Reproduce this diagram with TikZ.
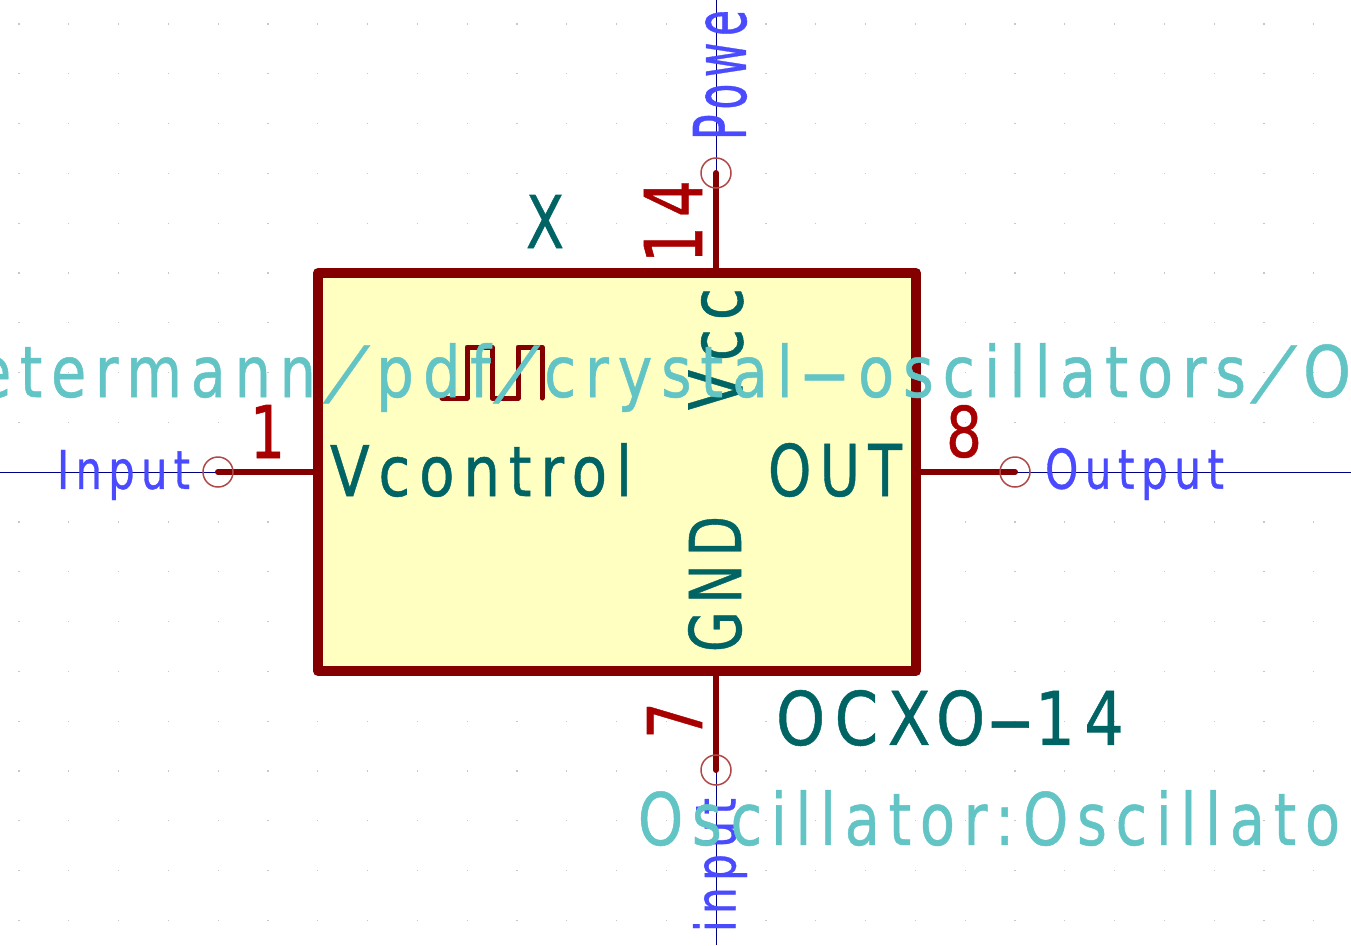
\documentclass[tikz,border=0pt]{standalone}
\usepackage{fontspec}
\usepackage{graphicx}
\setmainfont{DejaVu Sans}
\newfontfamily\strokefont[LetterSpace=15,FakeBold=0.7]{DejaVu Sans}
\newfontfamily\slashfont[FakeSlant=0.4,FakeBold=0.4]{DejaVu Sans}
\definecolor{bodyfill}{RGB}{255,255,194}
\definecolor{pinred}{RGB}{132,0,0}
\definecolor{numred}{RGB}{168,0,0}
\definecolor{refteal}{RGB}{0,100,100}
\definecolor{fieldteal}{RGB}{98,196,196}
\definecolor{netblue}{RGB}{74,74,255}
\definecolor{wireblue}{RGB}{0,0,132}
\definecolor{anchorred}{RGB}{176,72,72}
\definecolor{griddot}{RGB}{200,200,200}
% fit text to an exact ink box: width, height
\newcommand{\fit}[3]{\resizebox*{#1pt}{#2pt}{\strokefont #3}}
% one run of a long text, set to a given width at its natural height
\newcommand{\seg}[2]{\resizebox{#1pt}{\height}{#2}}
\newcommand{\slashseg}{\makebox[50pt][l]{\kern3.5pt\slashfont /}}
\tikzset{
  lbl/.style={inner sep=0pt,outer sep=0pt,anchor=center},
  pinline/.style={line width=6pt,draw=pinred,line cap=round},
  wire/.style={line width=1pt,draw=wireblue},
  anchorring/.style={circle,draw=anchorred,line width=1.5pt,minimum size=30pt,inner sep=0pt,fill=none},
  bodybox/.style={draw=pinred,fill=bodyfill,line width=10pt,line join=round,rectangle,inner sep=0pt,minimum width=598pt,minimum height=398pt},
  refstyle/.style={lbl,text=refteal},
  fieldstyle/.style={lbl,text=fieldteal},
  numstyle/.style={lbl,text=numred},
  netstyle/.style={lbl,text=netblue},
}
\begin{document}
\begin{tikzpicture}[x=1pt,y=-1pt]
\useasboundingbox (0,0) rectangle (1351,945);
\begin{scope}
\clip (0,0) rectangle (1351,945);
\fill[white] (0,0) rectangle (1351,945);
\foreach \i in {0,...,26}{\foreach \j in {0,...,18}{
  \fill[griddot] ({19+49.8*\i-0.6},{24+49.8*\j-0.6}) rectangle ++(1.2,1.2);}}
\node[bodybox] (body) at (617,472) {};
\coordinate (pL) at (218,472);
\coordinate (pR) at (1015,472);
\coordinate (pT) at (716,173);
\coordinate (pB) at (716,770);
\coordinate (eL) at (0,472);
\coordinate (eR) at (1351,472);
\coordinate (eT) at (716,0);
\coordinate (eB) at (716,945);
\draw[wire] (eL) -- (pL);
\draw[wire] (pR) -- (eR);
\draw[wire] (eT) -- (pT);
\draw[wire] (pB) -- (eB);
\draw[pinline] (pL) -- (pL -| body.west);
\draw[pinline] (pR) -- (pR -| body.east);
\draw[pinline] (pT) -- (pT |- body.north);
\draw[pinline] (pB) -- (pB |- body.south);
\node[anchorring] (aL) at (pL) {};
\node[anchorring] (aR) at (pR) {};
\node[anchorring] (aT) at (pT) {};
\node[anchorring] (aB) at (pB) {};
\draw[line width=5pt,draw=pinred,line cap=round,line join=round]
  (442,398) -- (467,398) -- (467,347) -- (492,347) -- (492,398) -- (518,398) -- (518,347) -- (542,347) -- (542,398);
\node[refstyle] (ref) at (545,221.5) {\fit{38}{53}{X}};
\node[numstyle] (n14) at (673,221.5) {\rotatebox{90}{\fit{83}{58}{14}}};
\node[numstyle] (n1) at (267.5,431.5) {\fit{35}{53}{1}};
\node[numstyle] (n8) at (964,431.5) {\fit{36}{53}{8}};
\node[numstyle] (n7) at (674.5,720.5) {\rotatebox{90}{\fit{37}{55}{7}}};
\node[refstyle] (vc) at (481,470) {\fit{302}{54}{Vcontrol}};
\node[refstyle] (out) at (835,470) {\fit{134}{54}{OUT}};
\node[refstyle] (vcc) at (716,349) {\rotatebox{90}{\fit{122}{55}{Vcc}}};
\node[refstyle] (gnd) at (715,584) {\rotatebox{90}{\fit{136}{54}{GND}}};
\node[refstyle] (val) at (950,718) {\fit{348}{56}{OCXO\scalebox{2.2}[1]{-}14}};
\node[netstyle] (nin) at (123.5,475) {\fit{133}{50}{Input}};
\node[netstyle] (nout) at (1134.5,474) {\fit{179}{52}{Output}};
\node[netstyle] (npow) at (720,75) {\rotatebox{90}{\fit{130}{54}{Powe}}};
\node[netstyle] (ninp) at (720,865) {\rotatebox{90}{\fit{134}{54}{input}}};
\node[fieldstyle,anchor=base west] (fp) at (-24,397) {\fontsize{71}{71}\strokefont
  \seg{340}{etermann}\kern6pt\slashseg\kern4pt\seg{115}{pdf}\kern1pt\slashseg\kern2pt%
  \seg{249}{crystal}\kern5pt\seg{53}{-}\kern7pt\seg{388}{oscillators}\kern3pt\slashseg\kern4pt\seg{48}{O}};
\node[fieldstyle] (lib) at (989,818) {\fit{702}{56}{Oscillator:Oscillato}};
\end{scope}
\end{tikzpicture}
\end{document}
